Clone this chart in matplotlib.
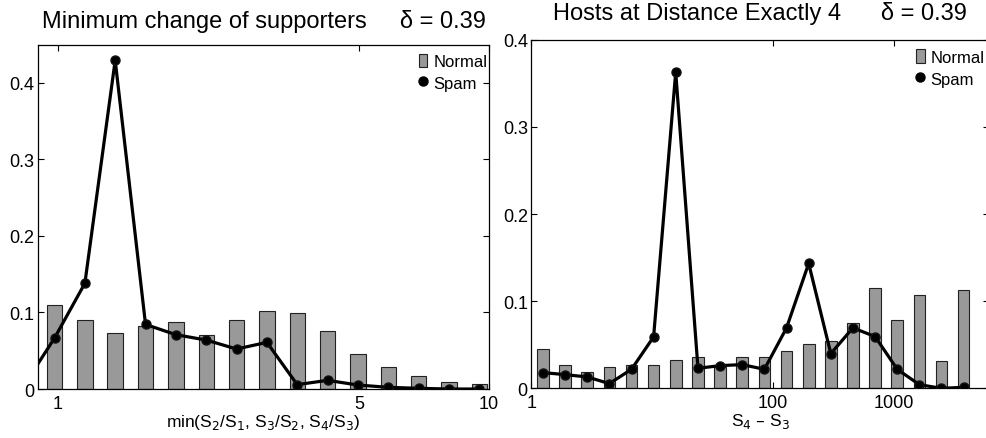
import numpy as np
import matplotlib
matplotlib.use("Agg")
import matplotlib.pyplot as plt
from matplotlib.patches import Patch
from matplotlib.lines import Line2D

plt.rcParams['font.family'] = ['Liberation Sans', 'DejaVu Sans']

# ---------------- data ----------------
# Left panel: min(S2/S1, S3/S2, S4/S3)
left_centers = [0.836, 0.983, 1.156, 1.359, 1.598, 1.879, 2.210, 2.598, 3.055,
                3.592, 4.224, 4.966, 5.840, 6.867, 8.074, 9.494]
left_normal = [0.0, 0.110, 0.090, 0.0735, 0.082, 0.088, 0.070, 0.090, 0.1017,
               0.0996, 0.0757, 0.0461, 0.0287, 0.0165, 0.0087, 0.0061]
left_spam = [0.005, 0.0665, 0.138, 0.429, 0.0843, 0.0709, 0.0639, 0.0522, 0.0609,
             0.0057, 0.0113, 0.0052, 0.0022, 0.0009, 0.0, 0.0]
left_xticks = [1, 5, 10]
left_xticklabels = ['1', '5', '10']

# Right panel: S4 - S3
right_centers = [1.25, 1.91, 2.91, 4.43, 6.76, 10.3, 15.7, 24.0, 36.6, 55.8,
                 85.1, 129.8, 198, 302, 460, 702, 1071, 1633, 2490, 3798]
right_normal = [0.0452, 0.0264, 0.0184, 0.0245, 0.0268, 0.0272, 0.0330, 0.0360,
                0.0250, 0.0356, 0.0364, 0.0433, 0.0506, 0.0540, 0.0747, 0.1146,
                0.0789, 0.1065, 0.0314, 0.1123]
right_spam = [0.018, 0.0157, 0.013, 0.0054, 0.0218, 0.059, 0.3628, 0.023, 0.026,
              0.0272, 0.0218, 0.0693, 0.1433, 0.0398, 0.0693, 0.0594, 0.0218,
              0.0042, 0.0, 0.0011]
right_xticks = [1, 100, 1000]
right_xticklabels = ['1', '100', '1000']

yticks = [0, 0.1, 0.2, 0.3, 0.4]
yticklabels = ['0', '0.1', '0.2', '0.3', '0.4']

titles = ['Minimum change of supporters     \u03b4 = 0.39',
          'Hosts at Distance Exactly 4      \u03b4 = 0.39']
xlabels = ['min(S$_2$/S$_1$, S$_3$/S$_2$, S$_4$/S$_3$)', 'S$_4$ \u2013 S$_3$']
legend_labels = ['Normal', 'Spam']

BAR_COLOR = '#999999'
TICK_FS = 13
TITLE_FS = 17
XLABEL_FS = 12.5
LEG_FS = 12

fig = plt.figure(figsize=(9.86, 4.39), dpi=100)
axL = fig.add_axes([0.03854, 0.1116, 0.4574, 0.7836])
axR = fig.add_axes([0.5388, 0.1132, 0.4646, 0.7941])


def draw(ax, centers, normal, spam, halfw, xlim, ylim, xticks, xticklabels,
         title, xlabel, leg_anchor, tpad):
    c = np.array(centers, dtype=float)
    left = c * 10 ** (-halfw)
    right = c * 10 ** (halfw)
    ax.bar(left, normal, width=right - left, align='edge', color=BAR_COLOR,
           edgecolor='#222222', linewidth=0.8, zorder=2)
    ax.plot(c, spam, color='black', lw=2.3, marker='o', ms=6.5,
            mfc='black', mec='#111111', zorder=3)
    ax.set_xscale('log')
    ax.set_xlim(*xlim)
    ax.set_ylim(*ylim)
    ax.set_xticks(xticks)
    ax.set_xticklabels(xticklabels)
    ax.xaxis.set_minor_locator(matplotlib.ticker.NullLocator())
    ax.set_yticks(yticks)
    ax.set_yticklabels(yticklabels)
    ax.tick_params(which='both', direction='in', top=True, right=True,
                   length=4.5, width=0.8, labelsize=TICK_FS, pad=4)
    ax.tick_params(axis='y', pad=2.5)
    for s in ax.spines.values():
        s.set_linewidth(0.9)
    ax.set_title(title, fontsize=TITLE_FS, pad=tpad)
    ax.set_xlabel(xlabel, fontsize=XLABEL_FS, labelpad=0)
    handles = [Patch(facecolor=BAR_COLOR, edgecolor='#222222', linewidth=0.8),
               Line2D([], [], linestyle='none', marker='o', color='black', ms=6.5)]
    ax.legend(handles, legend_labels, loc='upper left', bbox_to_anchor=leg_anchor,
              frameon=False, fontsize=LEG_FS, handlelength=0.5, handleheight=0.9,
              handletextpad=0.35, labelspacing=0.35, borderpad=0, borderaxespad=0)


draw(axL, left_centers, left_normal, left_spam, 0.0179, (0.9, 10), (0, 0.449),
     left_xticks, left_xticklabels, titles[0], xlabels[0], (0.845, 0.975), 13)
draw(axR, right_centers, right_normal, right_spam, 0.0483, (1, 6200), (0, 0.4),
     right_xticks, right_xticklabels, titles[1], xlabels[1], (0.8405, 0.972), 15)

fig.savefig('out.png', dpi=100)
